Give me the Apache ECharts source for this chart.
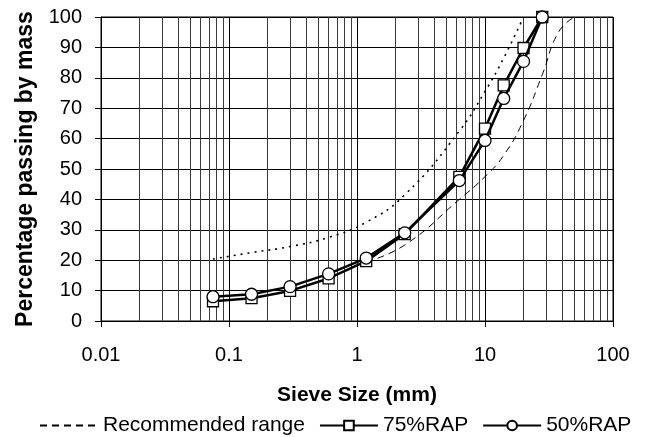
<!DOCTYPE html>
<html>
<head>
<meta charset="utf-8">
<script src="https://cdn.jsdelivr.net/npm/echarts@6/dist/echarts.min.js"></script>
<style>
  html, body { margin: 0; padding: 0; background: #fff; }
  #chart { width: 645px; height: 437px; }
</style>
</head>
<body>
<div id="chart"></div>
<script>
// sieve sizes (mm) and percentage passing
const sieveSizes = [0.075, 0.15, 0.3, 0.6, 1.18, 2.36, 6.3, 10, 14, 20, 28];
const rap75 = [6.5, 7.5, 9.9, 14.0, 19.7, 28.6, 47.4, 63.3, 77.5, 89.8, 100];
const rap50 = [8.0, 8.8, 11.3, 15.5, 20.7, 29.0, 46.2, 59.4, 73.2, 85.4, 100];

// recommended envelope
const upperSizes = [0.075, 0.15, 0.3, 0.6, 1.18, 2.36, 6.3, 10, 14, 20];
const upperLimit = [20.4, 22.5, 24.5, 27.5, 32.5, 41.5, 62.5, 75.5, 86.5, 100];
const lowerSizes = [1.18, 2.36, 6.3, 10, 14, 20, 28, 37.5, 50];
const lowerLimit = [19.5, 25, 40, 47.5, 54.5, 66, 81, 95, 100];

const xTickLabels = ['0.01', '0.1', '1', '10', '100'];
const yTickLabels = ['0', '10', '20', '30', '40', '50', '60', '70', '80', '90', '100'];

const zip = (xs, ys) => xs.map((x, i) => [x, ys[i]]);
const font = 'Liberation Sans, Arial, sans-serif';

const chart = echarts.init(document.getElementById('chart'));

const option = {
  animation: false,
  textStyle: { fontFamily: font, color: '#000' },
  grid: {
    left: 101,
    right: 32,
    top: 17,
    bottom: 116,
    show: true,
    borderColor: '#000',
    borderWidth: 1,
  },
  legend: {
    left: 34,
    top: 410,
    itemWidth: 58,
    itemHeight: 12,
    itemGap: 14,
    textStyle: { fontFamily: font, fontSize: 21, color: '#000' },
    data: [
      { name: 'Recommended range', itemStyle: { opacity: 0 } },
      '75%RAP',
      '50%RAP',
    ],
  },
  xAxis: {
    type: 'log',
    logBase: 10,
    min: 0.01,
    max: 100,
    name: 'Sieve Size (mm)',
    nameLocation: 'middle',
    nameGap: 64,
    nameTextStyle: { fontFamily: font, fontSize: 21, fontWeight: 'bold', color: '#000' },
    axisLine: { lineStyle: { color: '#000', width: 1 } },
    axisTick: { show: true, inside: false, length: 6, lineStyle: { color: '#000' } },
    minorTick: { show: false, splitNumber: 9 },
    axisLabel: {
      margin: 24,
      fontSize: 20,
      color: '#000',
      fontFamily: font,
      formatter: (v) => xTickLabels[Math.round(Math.log10(v)) + 2],
    },
    splitLine: { show: true, lineStyle: { color: '#000', width: 1 } },
    minorSplitLine: { show: true, lineStyle: { color: '#3a3a3a', width: 1 } },
  },
  yAxis: {
    type: 'value',
    min: 0,
    max: 100,
    interval: 10,
    name: 'Percentage passing by mass',
    nameLocation: 'middle',
    nameGap: 64,
    nameTextStyle: { fontFamily: font, fontSize: 23, fontWeight: 'bold', color: '#000' },
    axisLine: { show: true, lineStyle: { color: '#000', width: 1 } },
    axisTick: { show: true, inside: false, length: 6, lineStyle: { color: '#000' } },
    axisLabel: {
      margin: 19,
      fontSize: 20,
      color: '#000',
      fontFamily: font,
      formatter: (v) => yTickLabels[Math.round(v / 10)],
    },
    splitLine: { show: true, lineStyle: { color: '#000', width: 1 } },
  },
  series: [
    {
      name: 'Recommended range',
      type: 'line',
      data: zip(lowerSizes, lowerLimit),
      smooth: 0.5,
      symbol: 'none',
      lineStyle: { color: '#000', width: 1, type: [7, 5] },
      itemStyle: { color: '#000' },
      z: 3,
    },
    {
      name: 'Recommended range',
      type: 'line',
      data: zip(upperSizes, upperLimit),
      smooth: 0.5,
      symbol: 'none',
      lineStyle: { color: '#000', width: 1.6, type: [2, 5] },
      itemStyle: { color: '#000' },
      z: 3,
    },
    {
      name: '75%RAP',
      type: 'line',
      data: zip(sieveSizes, rap75),
      symbol: 'rect',
      symbolSize: 11,
      lineStyle: { color: '#000', width: 2.5 },
      itemStyle: { color: '#fff', borderColor: '#000', borderWidth: 1.3 },
      z: 4,
    },
    {
      name: '50%RAP',
      type: 'line',
      data: zip(sieveSizes, rap50),
      symbol: 'circle',
      symbolSize: 12,
      lineStyle: { color: '#000', width: 2.5 },
      itemStyle: { color: '#fff', borderColor: '#000', borderWidth: 1.3 },
      z: 5,
    },
  ],
};

chart.setOption(option);
</script>
</body>
</html>
